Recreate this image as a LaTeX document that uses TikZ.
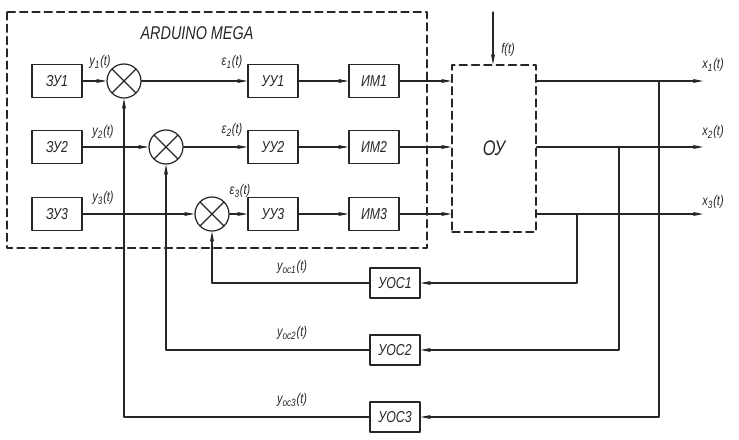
\documentclass[tikz,border=0pt]{standalone}
\usepackage{fontspec}
\setmainfont{Liberation Sans}[FakeStretch=0.78]
\usetikzlibrary{arrows.meta}

\begin{document}
\begin{tikzpicture}[x=0.02cm,y=-0.02cm,line cap=round,line join=round,line width=0.7pt,color=black!85,>={Stealth[length=6pt,width=2.4pt]},
  blok/.style={draw,minimum width=1cm,minimum height=0.66cm,inner sep=0pt,font=\fontsize{9}{10}\selectfont\itshape},
  summ/.style={draw,circle,minimum size=0.68cm,inner sep=0pt,path picture={\draw (path picture bounding box.north west) -- (path picture bounding box.south east) (path picture bounding box.north east) -- (path picture bounding box.south west);}},
  shtrih/.style={dash pattern=on 4.5pt off 2.5pt},
  lbl/.style={font=\fontsize{8}{9}\selectfont\itshape,inner sep=0pt}]
        \useasboundingbox (0,0) rectangle (739,439);
        \draw[shtrih] (7,12) rectangle (427,248);
        \node[font=\fontsize{10.5}{12}\selectfont\itshape] (ard) at (197,33) {ARDUINO MEGA};
        \node[draw,shtrih,minimum width=1.68cm,minimum height=3.34cm,font=\fontsize{12}{14}\selectfont\itshape] (ou) at (494,148.5) {ОУ};
        \foreach \i/\yy/\sx in {1/81/124,2/147/166,3/214/212}{
          \node[blok] (zu\i) at (57,\yy) {ЗУ\i};
          \node[summ] (s\i) at (\sx,\yy) {};
          \node[blok] (uu\i) at (273,\yy) {УУ\i};
          \node[blok] (im\i) at (374,\yy) {ИМ\i};
          \draw[->] (zu\i) -- (s\i);
          \draw[->] (s\i) -- (uu\i);
          \draw[->] (uu\i) -- (im\i);
          \draw[->] (im\i) -- (ou.west |- im\i);
          \coordinate (x\i) at (703,\yy);
          \draw[->] (ou.east |- x\i) -- (x\i);
          \node[blok,minimum height=0.6cm] (uoc\i) at (395,{216+67*\i}) {УОС\i};
        }
        % feedback
        \coordinate (t1) at (659,81);
        \coordinate (t2) at (619,147);
        \coordinate (t3) at (577,214);
        \draw[->] (t1) |- (uoc3);
        \draw[->] (t2) |- (uoc2);
        \draw[->] (t3) |- (uoc1);
        \draw[->] (uoc1) -| (s3);
        \draw[->] (uoc2) -| (s2);
        \draw[->] (uoc3) -| (s1);
        % disturbance
        \coordinate (f) at (493,12);
        \draw[->] (f) -- (f |- ou.north);
        \node[lbl] (lf) at (508,50) {f(t)};
        % labels
        \node[lbl] (ly1) at (100,62) {y\textsubscript{1}(t)};
        \node[lbl] (ly2) at (103,132) {y\textsubscript{2}(t)};
        \node[lbl] (ly3) at (103,198) {y\textsubscript{3}(t)};
        \node[lbl] (le1) at (232,62) {ε\textsubscript{1}(t)};
        \node[lbl] (le2) at (232,130) {ε\textsubscript{2}(t)};
        \node[lbl] (le3) at (240,191) {ε\textsubscript{3}(t)};
        \node[lbl] (lx1) at (713,65) {x\textsubscript{1}(t)};
        \node[lbl] (lx2) at (713,132) {x\textsubscript{2}(t)};
        \node[lbl] (lx3) at (713,202) {x\textsubscript{3}(t)};
        \node[lbl] (lo1) at (292,267) {y\textsubscript{ос1}(t)};
        \node[lbl] (lo2) at (292,333) {y\textsubscript{ос2}(t)};
        \node[lbl] (lo3) at (292,400) {y\textsubscript{ос3}(t)};
      \end{tikzpicture}
\end{document}
